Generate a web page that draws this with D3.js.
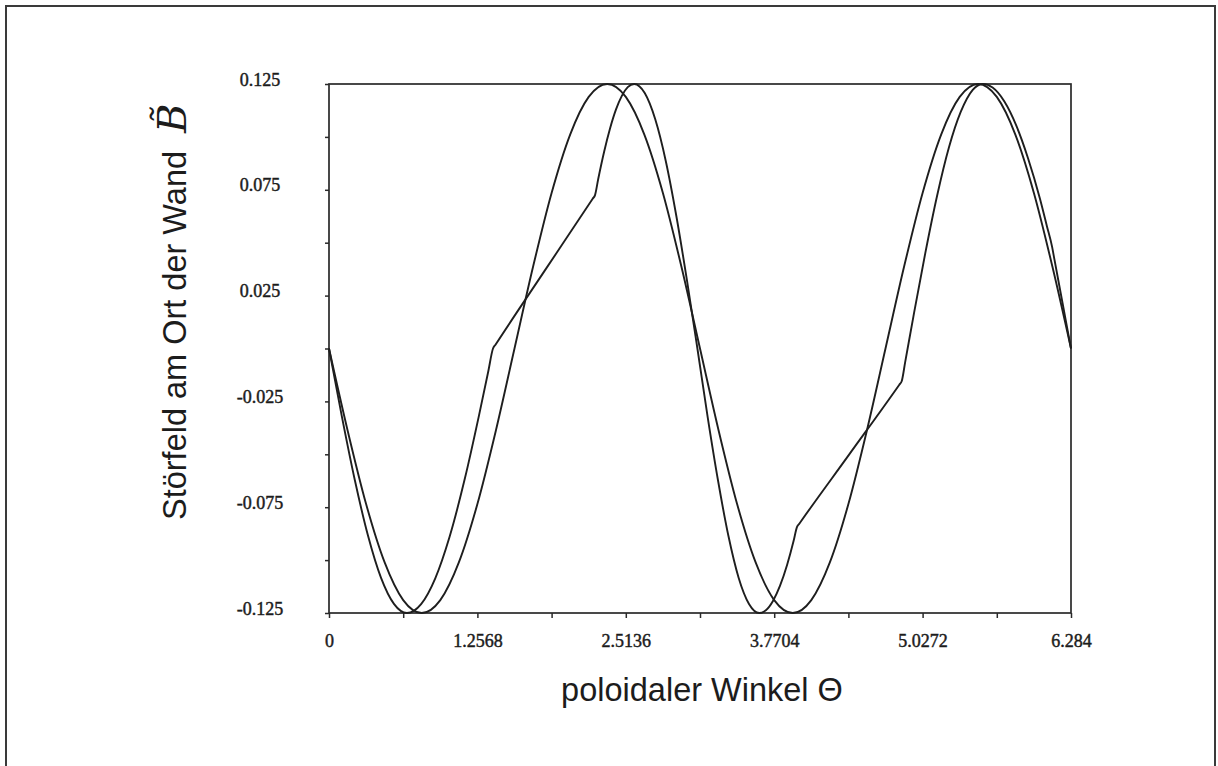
<!DOCTYPE html>
<html>
<head>
<meta charset="utf-8">
<script src="https://cdnjs.cloudflare.com/ajax/libs/d3/7.8.5/d3.min.js"></script>
<style>
  body { margin: 0; background: #fff; }
  svg { display: block; }
  .tickLabel { font-family: "Liberation Serif", "DejaVu Serif", serif; font-size: 18px; fill: #1c1c1c; stroke: #1c1c1c; stroke-width: 0.45px; }
  .axisTitle { font-family: "Liberation Sans", Arial, sans-serif; font-size: 32.5px; fill: #1c1c1c; }
</style>
</head>
<body>
<div id="chart"></div>
<script>
/***** Values  **********************************/
var xTicks = [0, 0.6284, 1.2568, 1.8852, 2.5136, 3.142, 3.7704, 4.3988, 5.0272, 5.6556, 6.284];
var xTickLabels = ["0", "", "1.2568", "", "2.5136", "", "3.7704", "", "5.0272", "", "6.284"];
var yTicks = [-0.125, -0.1, -0.075, -0.05, -0.025, 0, 0.025, 0.05, 0.075, 0.1, 0.125];
var yTickLabels = ["-0.125", "", "-0.075", "", "-0.025", "", "0.025", "", "0.075", "", "0.125"];

// smooth curve
var qTheta = [0, 0.1571, 0.3142, 0.4713, 0.6284, 0.7855, 0.9426, 1.0997, 1.2568, 1.4139,
              1.571, 1.7281, 1.8852, 2.0423, 2.1994, 2.3565, 2.5136, 2.6707, 2.8278, 2.9849,
              3.142, 3.2991, 3.4562, 3.6133, 3.7704, 3.9275, 4.0846, 4.2417, 4.3988, 4.5559,
              4.713, 4.8701, 5.0272, 5.1843, 5.3414, 5.4985, 5.6556, 5.8127, 5.9698, 6.1269, 6.284];
var qValue = [0, -0.0386, -0.0735, -0.1011, -0.1189, -0.125, -0.1189, -0.1011, -0.0735, -0.0386,
              0, 0.0386, 0.0735, 0.1011, 0.1189, 0.125, 0.1189, 0.1011, 0.0735, 0.0386,
              0, -0.0386, -0.0735, -0.1011, -0.1189, -0.125, -0.1189, -0.1011, -0.0735, -0.0386,
              0, 0.0386, 0.0735, 0.1011, 0.1189, 0.125, 0.1189, 0.1011, 0.0735, 0.0386, 0];

// curve with straight pieces (kinks at 1.389, 2.253, 3.963, 4.85, 6.124)
var pTheta = [0, 0.11, 0.22, 0.33, 0.44, 0.55, 0.66, 0.78, 0.90, 1.02, 1.15, 1.27, 1.35, 1.389,
              1.41, 1.82, 2.233, 2.253, 2.28, 2.33, 2.38, 2.43, 2.48, 2.53, 2.585,
              2.674, 2.763, 2.853, 2.942, 3.031, 3.12, 3.207, 3.295, 3.382, 3.469, 3.557, 3.644,
              3.70, 3.76, 3.82, 3.88, 3.935, 3.963, 3.983, 4.40, 4.83, 4.85,
              4.88, 4.95, 5.05, 5.15, 5.25, 5.35, 5.45, 5.537,
              5.62, 5.72, 5.82, 5.92, 6.02, 6.08, 6.124, 6.144, 6.264, 6.284];
var pValue = [0, -0.0324, -0.0625, -0.0884, -0.1083, -0.1207, -0.125, -0.1208, -0.1086, -0.0892, -0.0616, -0.0317, -0.0105, 0,
              0.0018, 0.0362, 0.0708, 0.0725, 0.0801, 0.0930, 0.1040, 0.1129, 0.1194, 0.1235, 0.125,
              0.1207, 0.1083, 0.0884, 0.0625, 0.0324, 0, -0.0324, -0.0625, -0.0884, -0.1083, -0.1207, -0.125,
              -0.1237, -0.1193, -0.1121, -0.1022, -0.0909, -0.0844, -0.0828, -0.0505, -0.0171, -0.0155,
              -0.0063, 0.0153, 0.0451, 0.0722, 0.0950, 0.1118, 0.1221, 0.125,
              0.1233, 0.1167, 0.1054, 0.0899, 0.0710, 0.0578, 0.048, 0.042, 0.006, 0];

/***** Page set up  ******/
var width = 1218, height = 766;
var margin = {top: 84, right: 147, bottom: 153, left: 329};
var plotW = width - margin.left - margin.right;
var plotH = height - margin.top - margin.bottom;

var svg = d3.select("#chart")
            .append("svg")
            .attr("width", width)
            .attr("height", height);

// scanned page border
svg.append("rect")
   .attr("x", 6)
   .attr("y", 6)
   .attr("width", 1209)
   .attr("height", 800)
   .attr("fill", "none")
   .attr("stroke", "#3a3a3a")
   .attr("stroke-width", 2);

var g = svg.append("g")
           .attr("transform", "translate(" + margin.left + "," + margin.top + ")");

var x = d3.scaleLinear().domain([0, 6.284]).range([0, plotW]);
var y = d3.scaleLinear().domain([-0.125, 0.125]).range([plotH, 0]);

/***** Axes  ******/
g.append("g")
 .attr("class", "axis axis--x")
 .attr("transform", "translate(0," + plotH + ")")
 .call(d3.axisBottom(x)
         .tickValues(xTicks)
         .tickSize(5)
         .tickPadding(16)
         .tickFormat(function(d, i) { return xTickLabels[i]; }));

g.append("g")
 .attr("class", "axis axis--y")
 .call(d3.axisLeft(y)
         .tickValues(yTicks)
         .tickSize(4)
         .tickFormat(function(d, i) { return yTickLabels[i]; }));

g.selectAll(".axis .domain").remove();
g.selectAll(".axis line").attr("stroke", "#2a2a2a").attr("stroke-width", 1.5);
g.selectAll(".axis text")
 .attr("class", "tickLabel")
 .attr("font-family", null)
 .attr("font-size", null)
 .attr("fill", null);

g.selectAll(".axis--y text")
 .attr("x", -69)
 .attr("dy", "0.06em")
 .attr("text-anchor", "middle");

// frame around plot
g.append("rect")
 .attr("x", 0)
 .attr("y", 0)
 .attr("width", plotW)
 .attr("height", plotH)
 .attr("fill", "none")
 .attr("stroke", "#2a2a2a")
 .attr("stroke-width", 1.7);

/***** Curves  ******/
var line = d3.line()
             .x(function(d) { return x(d[0]); })
             .y(function(d) { return y(d[1]); })
             .curve(d3.curveMonotoneX);

var curves = [
  d3.zip(qTheta, qValue),
  d3.zip(pTheta, pValue)
];

g.selectAll(".curve")
 .data(curves)
 .enter()
 .append("path")
 .attr("class", "curve")
 .attr("d", line)
 .attr("fill", "none")
 .attr("stroke", "#1e1e1e")
 .attr("stroke-width", 1.9)
 .attr("stroke-linejoin", "round");

/***** Axis titles  ******/
svg.append("text")
   .attr("class", "axisTitle")
   .attr("x", 702)
   .attr("y", 701)
   .attr("text-anchor", "middle")
   .text("poloidaler Winkel \u0398");

var yTitle = svg.append("text")
   .attr("class", "axisTitle")
   .attr("transform", "translate(186,520) rotate(-90)")
   .attr("text-anchor", "start");

yTitle.append("tspan").text("Störfeld am Ort der Wand");
yTitle.append("tspan")
      .attr("dx", 18)
      .style("font-family", "'DejaVu Serif', serif")
      .style("font-style", "italic")
      .style("font-size", "40px")
      .text("B\u0303");
</script>
</body>
</html>
